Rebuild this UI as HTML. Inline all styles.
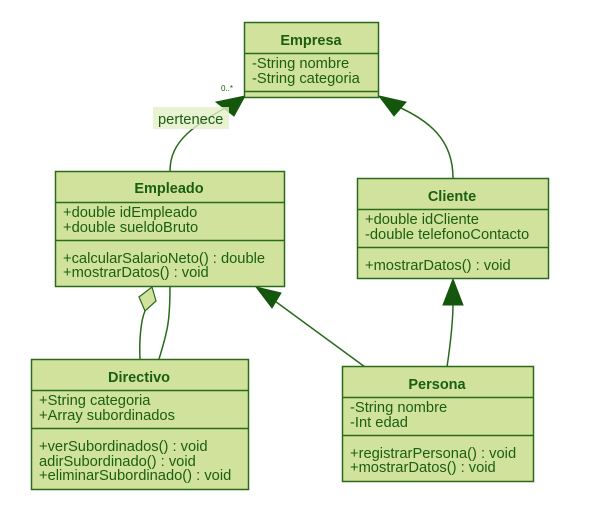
<!DOCTYPE html>
<html><head><meta charset="utf-8"><style>
html,body{margin:0;padding:0;background:#fff;}
svg{display:block;}
text{font-family:"Liberation Sans",sans-serif;fill:#1b5e12;}
.t{font-weight:bold;font-size:14.5px;text-anchor:middle;}
.a{font-size:14.7px;}
.b{fill:#d0e29c;stroke:#2a6a1c;stroke-width:1.5;}
.l{fill:none;stroke:#2a6a1c;stroke-width:1.5;}
.h{fill:#14560c;stroke:#14560c;}
</style></head><body>
<svg width="615" height="528" viewBox="0 0 615 528">
<!-- connectors -->
<path class="l" d="M170,171 C170,140 195,125 232,104"/>
<polygon class="h" points="245,96 216,102 234,116"/>
<rect x="153" y="107" width="76" height="22" fill="#e4f0c8" opacity="0.8"/>
<text x="158" y="124" class="a">pertenece</text>
<text x="221" y="91" style="font-size:8px">0..*</text>
<path class="l" d="M453,178 C453,140 430,120 392,104"/>
<polygon class="h" points="379,96 406,102 394,116"/>
<path class="l" d="M140,359 C139,340 141,320 145,311"/>
<polygon points="152,287 156,301 145,311 139,297" fill="#d0e29c" stroke="#2a6a1c" stroke-width="1.2"/>
<path class="l" d="M170,286 C170,320 168,330 159,359"/>
<path class="l" d="M365,367 L268,296"/>
<polygon class="h" points="256,287 281,293 272,308"/>
<path class="l" d="M447,367 C451,340 453,320 453,303"/>
<polygon class="h" points="453,279 443,305 463,305"/>
<!-- Empresa -->
<rect class="b" x="244.5" y="22.5" width="134" height="75"/>
<line class="l" x1="244" y1="53.5" x2="378" y2="53.5"/>
<line class="l" x1="244" y1="91.5" x2="378" y2="91.5"/>
<text class="t" x="311" y="45">Empresa</text>
<text class="a" x="252" y="68">-String nombre</text>
<text class="a" x="252" y="83">-String categoria</text>
<!-- Empleado -->
<rect class="b" x="55.5" y="171.5" width="229" height="115"/>
<line class="l" x1="55" y1="202.5" x2="284" y2="202.5"/>
<line class="l" x1="55" y1="240.5" x2="284" y2="240.5"/>
<text class="t" x="169" y="193">Empleado</text>
<text class="a" x="63" y="217">+double idEmpleado</text>
<text class="a" x="63" y="232">+double sueldoBruto</text>
<text class="a" x="63" y="263">+calcularSalarioNeto() : double</text>
<text class="a" x="63" y="277">+mostrarDatos() : void</text>
<!-- Cliente -->
<rect class="b" x="357.5" y="178.5" width="191" height="100"/>
<line class="l" x1="357" y1="209.5" x2="548" y2="209.5"/>
<line class="l" x1="357" y1="247.5" x2="548" y2="247.5"/>
<text class="t" x="452" y="201">Cliente</text>
<text class="a" x="365" y="224">+double idCliente</text>
<text class="a" x="365" y="239">-double telefonoContacto</text>
<text class="a" x="365" y="270">+mostrarDatos() : void</text>
<!-- Directivo -->
<rect class="b" x="31.5" y="359.5" width="217" height="130"/>
<line class="l" x1="31" y1="390.5" x2="248" y2="390.5"/>
<line class="l" x1="31" y1="428.5" x2="248" y2="428.5"/>
<text class="t" x="139" y="382">Directivo</text>
<text class="a" x="39" y="405">+String categoria</text>
<text class="a" x="39" y="420">+Array subordinados</text>
<text class="a" x="39" y="451">+verSubordinados() : void</text>
<text class="a" x="39" y="466">adirSubordinado() : void</text>
<text class="a" x="39" y="480">+eliminarSubordinado() : void</text>
<!-- Persona -->
<rect class="b" x="342.5" y="366.5" width="191" height="115"/>
<line class="l" x1="342" y1="397.5" x2="533" y2="397.5"/>
<line class="l" x1="342" y1="435.5" x2="533" y2="435.5"/>
<text class="t" x="437" y="389">Persona</text>
<text class="a" x="350" y="412">-String nombre</text>
<text class="a" x="350" y="427">-Int edad</text>
<text class="a" x="350" y="458">+registrarPersona() : void</text>
<text class="a" x="350" y="472">+mostrarDatos() : void</text>
</svg>
</body></html>
